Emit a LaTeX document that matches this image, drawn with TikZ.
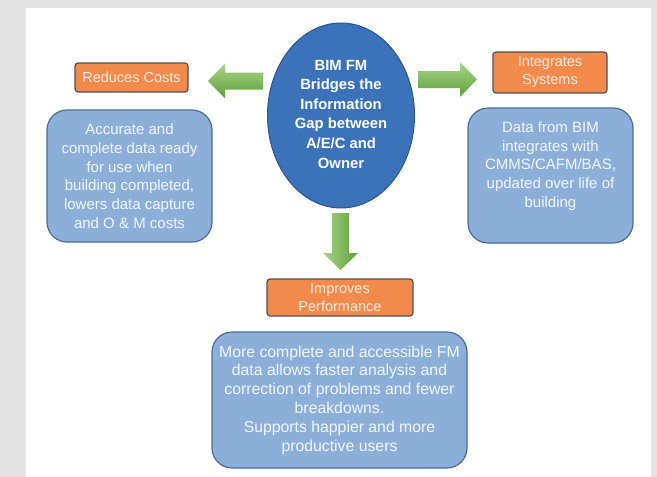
\documentclass[tikz,border=0pt]{standalone}
\usepackage{fontspec}
\setmainfont{Liberation Sans}
\usetikzlibrary{shapes.geometric}
\definecolor{bggray}{HTML}{E4E4E4}
\definecolor{ellfill}{HTML}{3B72BA}
\definecolor{elldraw}{HTML}{2A578F}
\definecolor{boxfill}{HTML}{8CAFDA}
\definecolor{boxdraw}{HTML}{4A6B92}
\definecolor{boxtext}{HTML}{F2F6FB}
\definecolor{orfill}{HTML}{F28A4B}
\definecolor{ordraw}{HTML}{4E5058}
\definecolor{ortext}{HTML}{FCEDE3}
\definecolor{glight}{HTML}{A9D487}
\definecolor{gdark}{HTML}{5E9F3A}
\tikzset{
  bluebox/.style={draw=boxdraw, line width=1.2pt, fill=boxfill, rounded corners=20pt, inner sep=0pt},
  boxtxt/.style={text=boxtext, align=center, font=\fontsize{15}{18.7}\selectfont, inner sep=0pt},
  orbox/.style={draw=ordraw, line width=1.2pt, fill=orfill, rounded corners=3pt, inner sep=0pt,
     text=ortext, align=center, font=\fontsize{14.5}{18}\selectfont},
  greenh/.style={top color=glight, bottom color=gdark, draw=none},
  greenv/.style={left color=glight, right color=gdark, draw=none},
}
\begin{document}
\begin{tikzpicture}[x=1pt,y=-1pt]
\useasboundingbox (0,0) rectangle (657,477);
\fill[bggray] (0,0) rectangle (657,477);
\fill[white] (26,8) rectangle (651,477);

% central ellipse
\node[ellipse, draw=elldraw, line width=1pt, fill=ellfill, minimum width=147pt, minimum height=185pt,
  inner sep=0pt] (hub) at (341,115.5) {};
\node[text=white, align=center, inner sep=0pt, font=\bfseries\fontsize{14.8}{19.6}\selectfont]
  (hubtxt) at (341,114) {BIM FM\\Bridges the\\Information\\Gap between\\A/E/C and\\Owner};

% orange headers
\node[orbox, minimum width=113pt, minimum height=29pt] (costs) at (131.5,77.5) {Reduces Costs};
\node[orbox, minimum width=114pt, minimum height=41pt] (integ) at (550,72.5) {Integrates\\Systems};
\node[orbox, minimum width=146pt, minimum height=37pt] (perf) at (340,297.5) {Improves\\Performance};

% blue boxes
\node[bluebox, minimum width=165pt, minimum height=132pt] (lbox) at (129.5,176) {};
\node[boxtxt] (ltxt) at (lbox.center) {Accurate and\\complete data ready\\for use when\\building completed,\\lowers data capture\\and O \& M costs};
\node[bluebox, minimum width=165pt, minimum height=135pt] (rbox) at (550.5,175.5) {};
\node[boxtxt] (rtxt) at (550.5,166) {Data from BIM\\integrates with\\CMMS/CAFM/BAS,\\updated over life of\\building};
\node[bluebox, minimum width=255pt, minimum height=136pt] (bbox) at (339.5,400) {};
\node[boxtxt, font=\fontsize{15.8}{18.8}\selectfont] (btxt) at (bbox.center) {More complete and accessible FM\\data allows faster analysis and\\correction of problems and fewer\\breakdowns.\\Supports happier and more\\productive users};

% green block arrows
\path[greenh] (263,72.5) -- (225,72.5) -- (225,63.5) -- (208,81) -- (225,98.5) -- (225,89.5) -- (263,89.5) -- cycle;
\path[greenh] (418,71) -- (460,71) -- (460,62) -- (477,79.5) -- (460,97) -- (460,88) -- (418,88) -- cycle;
\path[greenv] (332,213) -- (332,253) -- (323,253) -- (340.5,270) -- (358,253) -- (349,253) -- (349,213) -- cycle;
\end{tikzpicture}
\end{document}
